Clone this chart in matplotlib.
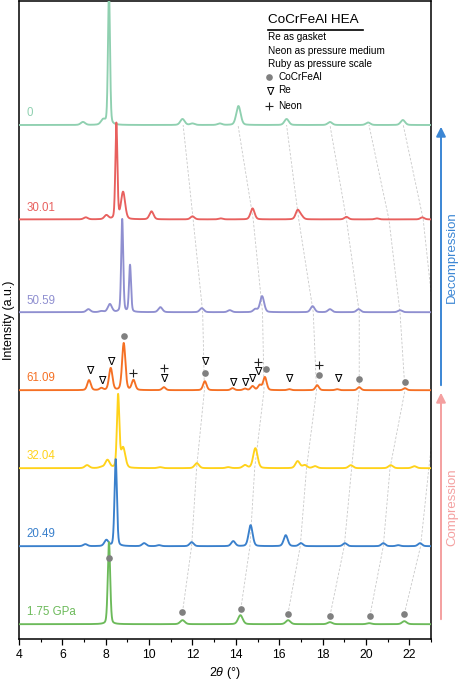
import numpy as np
import matplotlib
matplotlib.use('Agg')
import matplotlib.pyplot as plt

plt.rcParams['font.family'] = ['Liberation Sans', 'DejaVu Sans']
plt.rcParams['mathtext.fontset'] = 'custom'
plt.rcParams['mathtext.rm'] = 'Liberation Sans'
plt.rcParams['mathtext.it'] = 'Liberation Sans:italic'

# ---------------- data ----------------
labels = ['1.75 GPa', '20.49', '32.04', '61.09', '50.59', '30.01', '0']
offsets = [0, 1, 2, 3, 4, 5.19, 6.4]
colors = ['#6cba5a', '#3a80cc', '#ffd21a', '#f57024', '#8f8fd0', '#e8605e', '#8fd0b0']

pos_175 = [8.15, 11.54, 14.21, 16.41, 18.34, 20.15, 21.77]
int_175 = [82, 4, 9, 4, 2, 1, 3]

pos_2049 = [7.06, 8.03, 8.46, 9.77, 10.46, 11.96, 13.88, 14.68, 16.3, 17.0, 19.03, 20.8, 21.49, 22.49]
int_2049 = [2, 6, 87, 3, 1, 4, 5, 21, 11, 3, 3, 3, 1, 3]

pos_3204 = [7.14, 7.8, 8.08, 8.57, 8.8, 10.5, 12.2, 13.65, 14.42, 14.9, 16.85, 17.18, 17.65, 19.3, 21.14, 22.23]
int_3204 = [3, 1, 8, 72, 20, 1, 5, 1, 3, 20, 7, 3, 2, 3, 3, 2]

pos_6109 = [7.23, 7.8, 8.23, 8.83, 9.28, 10.68, 12.57, 13.85, 14.42, 14.77, 15.1, 15.34, 16.46, 17.75, 18.67, 19.69, 21.8]
int_6109 = [10, 2, 22, 47, 10, 3, 9, 2, 1.5, 4, 5, 13, 1, 5, 1, 3, 2]

pos_5059 = [7.2, 7.8, 8.19, 8.76, 9.12, 10.52, 12.43, 13.72, 14.9, 15.21, 17.54, 18.34, 19.66, 21.57]
int_5059 = [3, 1, 8, 93, 47, 5, 4, 2, 3, 16, 6, 3, 3, 2]

pos_3001 = [7.08, 8.03, 8.49, 8.8, 10.11, 12.0, 13.3, 14.77, 16.85, 17.02, 19.1, 20.5, 22.6]
int_3001 = [2, 4, 96, 27, 8, 3, 1, 11, 9, 3, 2.5, 1, 2]

pos_0 = [6.95, 7.88, 8.15, 11.54, 12.0, 13.26, 14.12, 16.34, 18.34, 20.1, 21.7]
int_0 = [3, 5, 135, 6, 1.5, 1.5, 19, 6, 3, 2.5, 5]

positions = [pos_175, pos_2049, pos_3204, pos_6109, pos_5059, pos_3001, pos_0]
intensities = [int_175, int_2049, int_3204, int_6109, int_5059, int_3001, int_0]
narrow_w = [0.13, 0.13, 0.13, 0.18, 0.11, 0.11, 0.11]
broad_w = [0.25, 0.22, 0.24, 0.19, 0.22, 0.22, 0.24]

# markers on the 61.09 GPa pattern (2theta, height above baseline)
re_6109_x = [7.26, 7.83, 8.25, 10.68, 12.58, 13.85, 14.42, 14.75, 15.0, 16.43, 18.68]
re_6109_y = [0.247, 0.119, 0.355, 0.141, 0.355, 0.094, 0.094, 0.141, 0.227, 0.141, 0.141]
ne_6109_x = [9.28, 10.68, 15.0, 17.82]
ne_6109_y = [0.222, 0.286, 0.363, 0.324]
hea_6109_x = [8.85, 12.58, 15.37, 17.82, 19.69, 21.8]
hea_6109_y = [0.692, 0.218, 0.269, 0.196, 0.141, 0.103]
# markers on the 1.75 GPa pattern
hea_175_x = [8.16, 11.54, 14.24, 16.41, 18.34, 20.17, 21.77]
hea_175_y = [0.85, 0.154, 0.196, 0.128, 0.106, 0.103, 0.132]

# peak tracking guide lines (2theta at each pattern, bottom -> top)
track_a = [11.54, 11.96, 12.19, 12.55, 12.47, 12.03, 11.57]
track_b = [14.23, 14.65, 14.87, 15.3, 15.23, 14.8, 14.1]
track_c = [16.40, 16.97, 17.26, 17.72, 17.57, 16.9, 16.34]
track_d = [18.34, 19.0, 19.34, 19.69, 19.69, 19.1, 18.34]
track_e = [20.18, 20.8, 21.11, 21.8, 21.57, 21.06, 20.14]
track_f = [21.77, 22.52, 22.9, 23.3, 23.1, 22.64, 21.72]
tracks = [track_a, track_b, track_c, track_d, track_e, track_f]
track_start = [0.154, 0.196, 0.128, 0.106, 0.103, 0.132]

SCALE = 1 / 78.0


def pattern(x, pos, ints, wn, wb):
    y = np.zeros_like(x)
    for p, h in zip(pos, ints):
        w = wn if h >= 40 else wb
        d = (x - p) / w
        g = np.exp(-4 * np.log(2) * d ** 2)
        l = 1 / (1 + 4 * d ** 2)
        y += h * (0.25 * l + 0.75 * g)
    return y * SCALE


fig = plt.figure(figsize=(4.6, 6.85), dpi=100)
ax = fig.add_axes([19 / 460, 46 / 685, 412 / 460, 638 / 685])

x = np.linspace(4, 23, 4000)

# guide lines
for tr, ys in zip(tracks, track_start):
    yy = list(offsets)
    yy[0] = ys
    ax.plot(tr, yy, ls=(0, (3, 2)), lw=0.6, color='#c8c8c8', zorder=1)

n = len(labels)
for i in range(n):
    y = pattern(x, positions[i], intensities[i], narrow_w[i], broad_w[i]) + offsets[i]
    ax.plot(x, y, color=colors[i], lw=1.35, zorder=10 + (n - i))
    ax.text(4.36, offsets[i] + 0.15, labels[i], color=colors[i], fontsize=8.3,
            ha='left', va='center', zorder=30)

off61 = offsets[labels.index('61.09')]
for xx, yy in zip(re_6109_x, re_6109_y):
    ax.text(xx, off61 + yy, '∇', fontsize=8, ha='center', va='center', zorder=40,
            family=['DejaVu Sans'])
ax.plot(ne_6109_x, [off61 + v for v in ne_6109_y], ls='none', marker='+', ms=6,
        mew=0.8, color='#222222', zorder=40)
ax.plot(hea_6109_x, [off61 + v for v in hea_6109_y], ls='none', marker='o', ms=4.8,
        color='#808080', mec='none', zorder=40)
ax.plot(hea_175_x, [offsets[0] + v for v in hea_175_y], ls='none', marker='o', ms=4.8,
        color='#808080', mec='none', zorder=40)

ax.set_xlim(4, 23)
ax.set_ylim(-0.19, 7.99)
ax.set_xticks(np.arange(4, 23, 2))
ax.set_xticks(np.arange(5, 24, 2), minor=True)
ax.set_yticks([])
ax.tick_params(axis='x', which='major', length=4, width=0.9, labelsize=8.8, pad=3)
ax.tick_params(axis='x', which='minor', length=2.5, width=0.8)
for s in ax.spines.values():
    s.set_linewidth(1.1)
ax.set_xlabel(r'2$\it{\theta}$ (°)', fontsize=9, labelpad=3)
ax.set_ylabel('Intensity (a.u.)', fontsize=9, labelpad=3)

# legend block
tx = 0.604
ax.text(tx, 0.970, 'CoCrFeAl HEA', transform=ax.transAxes, fontsize=9.7, ha='left', va='center')
ax.plot([0.604, 0.835], [0.955, 0.955], transform=ax.transAxes, color='black', lw=1.2,
        clip_on=False)
ax.text(tx, 0.944, 'Re as gasket', transform=ax.transAxes, fontsize=7.2, ha='left', va='center')
ax.text(tx, 0.922, 'Neon as pressure medium', transform=ax.transAxes, fontsize=7.2, ha='left', va='center')
ax.text(tx, 0.901, 'Ruby as pressure scale', transform=ax.transAxes, fontsize=7.2, ha='left', va='center')
ax.plot([0.608], [0.881], transform=ax.transAxes, marker='o', ms=4.8, color='#808080', mec='none')
ax.text(0.629, 0.881, 'CoCrFeAl', transform=ax.transAxes, fontsize=7.2, ha='left', va='center')
ax.text(0.608, 0.857, '∇', transform=ax.transAxes, fontsize=8, ha='center', va='center',
        family=['DejaVu Sans'])
ax.text(0.629, 0.860, 'Re', transform=ax.transAxes, fontsize=7.2, ha='left', va='center')
ax.plot([0.606], [0.836], transform=ax.transAxes, marker='+', ms=6, mew=0.8, color='#222222')
ax.text(0.629, 0.836, 'Neon', transform=ax.transAxes, fontsize=7.2, ha='left', va='center')

# arrows
ax_x = 441 / 460
ax.annotate('', xy=(ax_x, 1 - 124 / 685), xytext=(ax_x, 1 - 388 / 685), xycoords='figure fraction',
            arrowprops=dict(arrowstyle='-|>', color='#3b86d4', lw=1.4, mutation_scale=14))
ax.annotate('', xy=(ax_x, 1 - 390 / 685), xytext=(ax_x, 1 - 622 / 685), xycoords='figure fraction',
            arrowprops=dict(arrowstyle='-|>', color='#f4a0a0', lw=1.4, mutation_scale=14))
fig.text(452 / 460, 1 - 257 / 685, 'Decompression', rotation=90, color='#3b86d4', fontsize=9.5,
         ha='center', va='center')
fig.text(452 / 460, 1 - 507 / 685, 'Compression', rotation=90, color='#f4a0a0', fontsize=9.5,
         ha='center', va='center')

fig.savefig('out.png', dpi=100)
